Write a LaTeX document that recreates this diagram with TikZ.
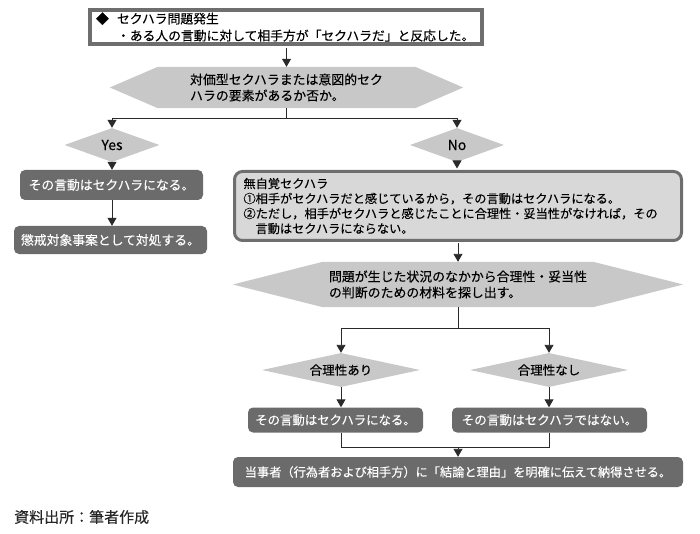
\documentclass[tikz,border=0pt]{standalone}
\usepackage{fontspec}
\newfontfamily\jp[FakeBold=0.2]{Noto Sans CJK JP}
\usetikzlibrary{shapes.geometric,arrows.meta,calc,backgrounds}
\definecolor{darkboxc}{HTML}{6B6B6B}
\definecolor{lightfill}{HTML}{C8C8C8}
\definecolor{mujifill}{HTML}{D8D8D8}
\definecolor{borderc}{HTML}{6E6E6E}
\definecolor{linec}{HTML}{2A2A2A}
\begin{document}
\begin{tikzpicture}[x=1pt,y=-1pt,
 jpf/.style={font=\jp\fontsize{12.5pt}{15pt}\selectfont},
 darkbox/.style={font=\jp\fontsize{12.8pt}{15pt}\selectfont, fill=darkboxc, text=white, rounded corners=5pt, inner sep=0pt},
 dia/.style={jpf, diamond, fill=lightfill, inner sep=0pt, aspect=3},
 hexbody/.style={font=\jp\fontsize{12.9pt}{16pt}\selectfont, inner sep=0pt, align=left},
 hexfill/.style={fill=lightfill},
 topbox/.style={font=\jp\fontsize{12.8pt}{17pt}\selectfont, draw=borderc, line width=4pt, fill=white,
   minimum width=392pt, minimum height=34pt, text width=384pt, inner xsep=4pt, inner ysep=0pt, align=left},
 mujibox/.style={font=\jp\fontsize{12.2pt}{15pt}\selectfont, draw=borderc, line width=3pt, fill=mujifill, rounded corners=8pt,
   minimum width=447pt, minimum height=69pt, text width=429pt, inner xsep=9pt, inner ysep=0pt, align=left},
 conn/.style={draw=linec, line width=0.9pt},
 arr/.style={conn, -{Triangle[width=9pt,length=8pt]}}
]
\useasboundingbox (0,0) rectangle (700,534);

% top box
\node[topbox] (top) at (286,27) {\hspace*{2pt}\makebox[21pt][l]{◆}セクハラ問題発生\\\hspace*{23pt}・ある人の言動に対して相手方が「セクハラだ」と反応した。};

% hexagon 1
\node[hexbody, minimum width=257pt, minimum height=41pt] (h1) at (286.5,87.5) {対価型セクハラまたは意図的セク\\ハラの要素があるか否か。};
\begin{scope}[on background layer]
\fill[hexfill] (h1.north west) -- (h1.north east) -- ($(h1.east)+(48,0)$) -- (h1.south east) -- (h1.south west) -- ($(h1.west)+(-48,0)$) -- cycle;
\end{scope}

% diamonds yes/no
\node[dia, minimum width=95pt, minimum height=34pt, font=\jp\fontsize{14pt}{15pt}\selectfont] (yes) at (112,145) {Yes};
\node[dia, minimum width=94pt, minimum height=34pt, font=\jp\fontsize{14pt}{15pt}\selectfont] (no) at (457,145) {No};

% left branch
\node[darkbox, minimum width=183pt, minimum height=30pt] (y1) at (111.5,185) {その言動はセクハラになる。};
\node[darkbox, minimum width=193pt, minimum height=28pt] (y2) at (110.5,240) {懲戒対象事案として対処する。};

% right branch
\node[mujibox] (muji) at (458,206) {無自覚セクハラ\\①相手がセクハラだと感じているから，その言動はセクハラになる。\\②ただし，相手がセクハラと感じたことに合理性・妥当性がなければ，その\\\hspace*{12pt}言動はセクハラにならない。};

\node[hexbody, minimum width=270pt, minimum height=45pt] (h2) at (458,284.5) {問題が生じた状況のなかから合理性・妥当性\\の判断のための材料を探し出す。};
\begin{scope}[on background layer]
\fill[hexfill] (h2.north west) -- (h2.north east) -- ($(h2.east)+(90,0)$) -- (h2.south east) -- (h2.south west) -- ($(h2.west)+(-90,0)$) -- cycle;
\end{scope}

\node[dia, minimum width=158pt, minimum height=34pt] (ari) at (341,370) {合理性あり};
\node[dia, minimum width=158pt, minimum height=34pt] (nashi) at (549,370) {合理性なし};

\node[darkbox, font=\jp\fontsize{12.4pt}{15pt}\selectfont, minimum width=175pt, minimum height=25pt] (lb) at (335.5,420) {その言動はセクハラになる。};
\node[darkbox, font=\jp\fontsize{12.6pt}{15pt}\selectfont, minimum width=195pt, minimum height=25pt] (rb) at (549.5,420) {その言動はセクハラではない。};

\node[darkbox, font=\jp\fontsize{12.2pt}{15pt}\selectfont, minimum width=450pt, minimum height=30pt] (fin) at (458,472) {当事者（行為者および相手方）に「結論と理由」を明確に伝えて納得させる。};

% footer
\node[anchor=west, inner sep=0pt, font=\jp\fontsize{15pt}{17pt}\selectfont, text=black!85] (src) at (14,517) {資料出所：筆者作成};

% connectors
\coordinate (s1) at (286.5,118);
\coordinate (s2) at (458,328);
\coordinate (j1) at (458,447);

\draw[arr] (top.south -| h1.north) ++(0,2) -- (h1.north);
\draw[conn] (h1.south) -- (s1);
\draw[arr] (s1) -| (yes.north);
\draw[arr] (s1) -| (no.north);
\draw[arr] (yes.south) -- (yes.south |- y1.north);
\draw[arr] (y1.south -| yes.south) -- (yes.south |- y2.north);
\draw[arr] (no.south) -- ($(no.south |- muji.north)+(0,-1.5)$);
\draw[arr] ($(muji.south)+(0,1.5)$) -- (h2.north);
\draw[conn] (h2.south) -- (s2);
\draw[arr] (s2) -| (ari.north);
\draw[arr] (s2) -| (nashi.north);
\draw[arr] (ari.south) -- (ari.south |- lb.north);
\draw[arr] (nashi.south) -- (nashi.south |- rb.north);
\draw[conn] (ari.south |- lb.south) |- (j1);
\draw[conn] (nashi.south |- rb.south) |- (j1);
\draw[arr] (j1) -- (fin.north);
\end{tikzpicture}
\end{document}
